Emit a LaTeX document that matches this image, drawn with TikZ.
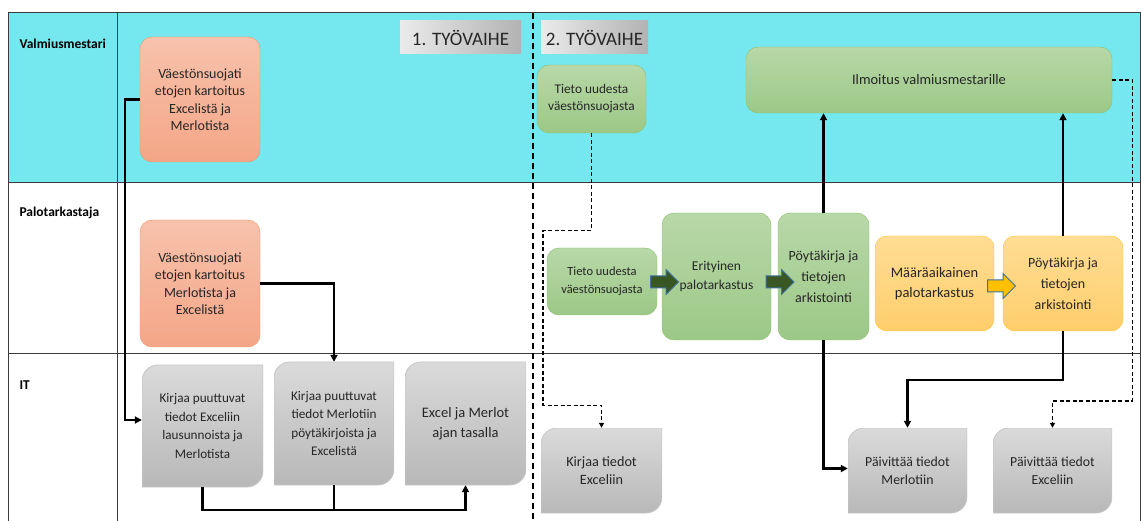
\documentclass[tikz,border=0pt]{standalone}
\usepackage{fontspec}
\setmainfont{Carlito}
\usetikzlibrary{arrows.meta,positioning,shapes.arrows,calc}
\definecolor{lanecyan}{RGB}{117,232,239}
\definecolor{gridline}{RGB}{60,60,60}
\definecolor{salmontop}{RGB}{247,194,172}
\definecolor{salmonbot}{RGB}{244,166,135}
\definecolor{salmonline}{RGB}{241,150,105}
\definecolor{greentop}{RGB}{184,216,168}
\definecolor{greenbot}{RGB}{156,200,135}
\definecolor{greenline}{RGB}{140,192,110}
\definecolor{orangetop}{RGB}{255,221,148}
\definecolor{orangebot}{RGB}{255,206,108}
\definecolor{orangeline}{RGB}{255,196,40}
\definecolor{graytop}{RGB}{218,218,218}
\definecolor{graybot}{RGB}{184,184,184}
\definecolor{arrowgreen}{RGB}{56,87,35}
\definecolor{arrowgold}{RGB}{255,192,0}
\definecolor{arrowline}{RGB}{65,113,156}
\definecolor{ink}{RGB}{38,38,38}
\tikzset{
  lanelabel/.style={anchor=west,font=\fontsize{13.5}{16}\selectfont\bfseries,text=black},
  phase/.style={left color=black!8,right color=black!30,minimum height=33pt,
    inner sep=0pt,font=\fontsize{19}{21}\selectfont,text=ink},
  task/.style={draw=#1line,top color=#1top,bottom color=#1bot,rounded corners=12pt,
    align=center,inner sep=0pt,text=ink,font=\fontsize{14}{18}\selectfont},
  task/.default=green,
  itbox/.style={fill=white,inner sep=0pt,align=center,text=ink,
    font=\fontsize{13.2}{18.5}\selectfont,
    path picture={
      \shade[top color=graytop,bottom color=graybot,draw=black!22,line width=0.8pt]
        let \p1=(path picture bounding box.south west),
            \p2=(path picture bounding box.north east) in
        (\x1,\y1) -- (\x1,\y2-16pt) arc[start angle=180,end angle=90,radius=16pt]
        -- (\x2,\y2) -- (\x2,\y1+16pt) arc[start angle=0,end angle=-90,radius=16pt]
        -- cycle;
    }},
  blockarrow/.style={single arrow,draw=arrowline,fill=#1,line width=1pt,
    inner xsep=0pt,inner ysep=5.5pt,minimum height=28pt,single arrow head extend=6.5pt},
  flow/.style={-{Triangle[length=7pt,width=7pt]},line width=2.2pt,black},
  dflow/.style={-{Triangle[length=5pt,width=5pt]},line width=1.1pt,black,
    dash pattern=on 4pt off 2.5pt},
}
\begin{document}
\begin{tikzpicture}[x=1pt,y=-1pt]
  \useasboundingbox (0,0) rectangle (1141,521);
  % lanes
  \fill[lanecyan] (8,13) rectangle (1141,183);
  \draw[gridline,line width=1pt] (8,13) -- (1141,13) (8,183) -- (1141,183) (8,354) -- (1141,354);
  \draw[gridline,line width=0.8pt] (8,13) -- (8,521) (117,13) -- (117,521) (1140,13) -- (1140,521);
  \draw[black,line width=1.2pt,dash pattern=on 6pt off 4pt] (533,13) -- (533,521);
  \node[lanelabel] (lvm) at (16,44) {Valmiusmestari};
  \node[lanelabel] (lpt) at (16,213) {Palotarkastaja};
  \node[lanelabel] (lit) at (16,385) {IT};
  \node[phase,minimum width=121pt] (ph1) at (460.5,37.5) {1. TYÖVAIHE};
  \node[phase,minimum width=107pt] (ph2) at (594.5,37.5) {2. TYÖVAIHE};

  % phase 1
  \node[task=salmon,minimum width=120pt,minimum height=125pt,font=\fontsize{14}{17.5}\selectfont] (a1) at (200,99.5)
    {Väestönsuojati\\etojen kartoitus\\Excelistä ja\\Merlotista};
  \node[task=salmon,minimum width=120pt,minimum height=127pt,font=\fontsize{14}{17.5}\selectfont] (a2) at (200,283.5)
    {Väestönsuojati\\etojen kartoitus\\Merlotista ja\\Excelistä};
  \node[itbox,minimum width=121pt,minimum height=122pt] (g1) at (202.5,426)
    {Kirjaa puuttuvat\\tiedot Exceliin\\lausunnoista ja\\Merlotista};
  \node[itbox,minimum width=120pt,minimum height=123pt] (g2) at (334,423.5)
    {Kirjaa puuttuvat\\tiedot Merlotiin\\pöytäkirjoista ja\\Excelistä};
  \node[itbox,minimum width=121pt,minimum height=123pt,font=\fontsize{14.5}{20}\selectfont] (g3) at (465.5,423.5)
    {Excel ja Merlot\\ajan tasalla};

  \draw[flow] (a1.west) -- ++(-15,0) |- ([yshift=6pt]g1.west);
  \draw[flow] (a2.east) -| (g2.north);
  \draw[line width=2.2pt] (g2.south) -- ++(0,25);
  \draw[flow] (g1.south) -- ++(0,23) -| (g3.south);

  % phase 2
  \node[task,minimum width=109pt,minimum height=68pt,font=\fontsize{13.3}{17}\selectfont] (t1) at (591.5,99)
    {Tieto uudesta\\väestönsuojasta};
  \node[task,minimum width=366pt,minimum height=66pt,font=\fontsize{14.5}{17}\selectfont] (il) at (929,80)
    {Ilmoitus valmiusmestarille};
  \node[task,minimum width=110pt,minimum height=67pt,font=\fontsize{12.5}{18}\selectfont] (t2) at (602,281.5)
    {Tieto uudesta\\väestönsuojasta};
  \node[task,minimum width=109pt,minimum height=127pt,font=\fontsize{13.5}{19}\selectfont] (e) at (716.5,276.5)
    {Erityinen\\palotarkastus};
  \node[task,minimum width=91pt,minimum height=127pt,font=\fontsize{14}{21}\selectfont] (p1) at (823.5,276.5)
    {Pöytäkirja ja\\tietojen\\arkistointi};
  \node[task=orange,minimum width=119pt,minimum height=95pt,font=\fontsize{14.5}{20}\selectfont] (m) at (934.5,283.5)
    {Määräaikainen\\palotarkastus};
  \node[task=orange,minimum width=120pt,minimum height=95pt,font=\fontsize{14}{21}\selectfont] (p2) at (1063,283.5)
    {Pöytäkirja ja\\tietojen\\arkistointi};
  \node[blockarrow=arrowgreen] (ar1) at (661.5,282) {};
  \node[blockarrow=arrowgreen] (ar2) at (777,282) {};
  \node[blockarrow=arrowgold] (ar3) at (998.5,286) {};

  \node[itbox,minimum width=121pt,minimum height=85pt,font=\fontsize{14.2}{18}\selectfont] (k) at (601.5,470.5)
    {Kirjaa tiedot\\Exceliin};
  \node[itbox,minimum width=119pt,minimum height=85pt,font=\fontsize{13.8}{18}\selectfont] (pm) at (907.5,470.5)
    {Päivittää tiedot\\Merlotiin};
  \node[itbox,minimum width=119pt,minimum height=85pt,font=\fontsize{13.8}{18}\selectfont] (pe) at (1052.5,470.5)
    {Päivittää tiedot\\Exceliin};

  \draw[dflow] (t1.south) -- ++(0,97) -- ++(-48.5,0) -- ++(0,175) -| (k.north);
  \draw[flow] (p1.north) -- (p1.north |- il.south);
  \draw[flow] (p1.south) |- ([yshift=2pt]pm.west);
  \draw[flow] (p2.north) -- (p2.north |- il.south);
  \draw[flow] (p2.south) -- ++(0,49) -| (pm.north);
  \draw[dflow] (il.east) -- ++(20,0) -- ++(0,321) -| (pe.north);
\end{tikzpicture}
\end{document}
